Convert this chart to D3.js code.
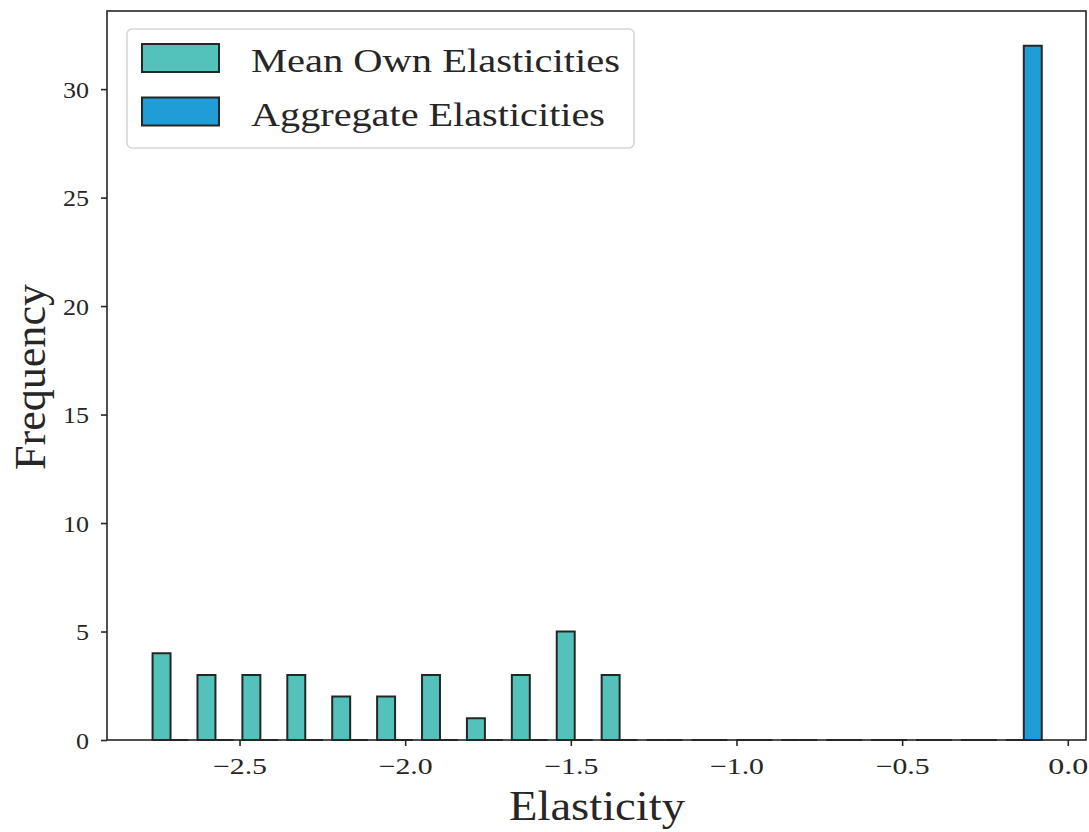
<!DOCTYPE html>
<html>
<head>
<meta charset="utf-8">
<script src="https://cdn.jsdelivr.net/npm/d3@7"></script>
<style>
  html, body { margin: 0; padding: 0; background: #ffffff; }
  svg { display: block; }
  text { font-family: "Liberation Serif", "DejaVu Serif", serif; fill: #262626; }
</style>
</head>
<body>
<svg id="chart" width="1089" height="832"></svg>
<script>
// ---- data ----
const binStart = -2.776;
const binWidth = 0.13555;
const binCount = 20;
const seriesNames = ["Mean Own Elasticities", "Aggregate Elasticities"];
const seriesColors = ["#52c2bb", "#209cd6"];
const meanOwnCounts = [4, 3, 3, 3, 2, 2, 3, 1, 3, 5, 3, 0, 0, 0, 0, 0, 0, 0, 0, 0];
const aggregateCounts = [0, 0, 0, 0, 0, 0, 0, 0, 0, 0, 0, 0, 0, 0, 0, 0, 0, 0, 0, 32];
const xTicks = [-2.5, -2.0, -1.5, -1.0, -0.5, 0.0];
const yTicks = [0, 5, 10, 15, 20, 25, 30];
const xDomain = [-2.9, 0.055];
const yDomain = [0, 33.6];

// ---- layout ----
const svg = d3.select("#chart");
const plot = { left: 107, right: 1086, top: 11, bottom: 740 };
const x = d3.scaleLinear().domain(xDomain).range([plot.left, plot.right]);
const y = d3.scaleLinear().domain(yDomain).range([plot.bottom, plot.top]);
const ink = "#262626";
const serif = '"Liberation Serif", "DejaVu Serif", serif';

const allSeries = [meanOwnCounts, aggregateCounts];
const rwidth = 0.8;
const barW = binWidth * rwidth / allSeries.length;

const bars = [];
allSeries.forEach((counts, s) => {
  counts.forEach((c, i) => {
    const left = binStart + i * binWidth + binWidth * (1 - rwidth) / 2 + s * barW;
    bars.push({ s, x0: left, x1: left + barW, c });
  });
});

const gBars = svg.append("g");
gBars.selectAll("path").data(bars).enter().append("path")
  .attr("d", d => {
    const p = d3.path();
    p.moveTo(x(d.x0), y(0));
    p.lineTo(x(d.x0), y(d.c));
    p.lineTo(x(d.x1), y(d.c));
    p.lineTo(x(d.x1), y(0));
    p.closePath();
    return p.toString();
  })
  .attr("fill", d => seriesColors[d.s])
  .attr("stroke", ink)
  .attr("stroke-width", 2)
  .attr("stroke-linejoin", "miter");

// frame
svg.append("rect")
  .attr("x", plot.left).attr("y", plot.top)
  .attr("width", plot.right - plot.left).attr("height", plot.bottom - plot.top)
  .attr("fill", "none").attr("stroke", ink).attr("stroke-width", 1.6);

// axes
const fmt = v => (v < 0 ? "\u2212" : "") + Math.abs(v).toFixed(1);
const xAxis = svg.append("g").attr("transform", `translate(0,${plot.bottom})`)
  .call(d3.axisBottom(x).tickValues(xTicks).tickFormat(fmt).tickSize(6).tickPadding(8));
const yAxis = svg.append("g").attr("transform", `translate(${plot.left},0)`)
  .call(d3.axisLeft(y).tickValues(yTicks).tickFormat(d3.format("d")).tickSize(6).tickPadding(12));
[xAxis, yAxis].forEach(g => {
  g.select(".domain").remove();
  g.selectAll(".tick line").attr("stroke", ink).attr("stroke-width", 1.6);
  g.selectAll(".tick text").attr("fill", ink).style("font-size", "23px")
    .style("font-family", serif);
});
xAxis.selectAll(".tick text").attr("dy", "0.85em")
  .attr("textLength", d => d < 0 ? 54 : 40).attr("lengthAdjust", "spacingAndGlyphs");
yAxis.selectAll(".tick text").attr("dy", "0.35em")
  .attr("textLength", d => d >= 10 ? 26 : 13).attr("lengthAdjust", "spacingAndGlyphs");

// axis labels
svg.append("text").attr("x", 597).attr("y", 820).attr("text-anchor", "middle")
  .style("font-size", "43px").attr("textLength", 176).attr("lengthAdjust", "spacingAndGlyphs")
  .text("Elasticity");
svg.append("text").attr("transform", "translate(45,377) rotate(-90)")
  .attr("text-anchor", "middle").style("font-size", "44px")
  .attr("textLength", 186).attr("lengthAdjust", "spacingAndGlyphs").text("Frequency");

// legend
const leg = svg.append("g");
leg.append("rect").attr("x", 127).attr("y", 29).attr("width", 507).attr("height", 119)
  .attr("rx", 5).attr("fill", "#ffffff").attr("fill-opacity", 0.8)
  .attr("stroke", "#d6d6d6").attr("stroke-width", 1.6);
seriesNames.forEach((name, i) => {
  const yy = 44 + i * 53.5;
  leg.append("rect").attr("x", 142).attr("y", yy).attr("width", 77).attr("height", 28)
    .attr("fill", seriesColors[i]).attr("stroke", ink).attr("stroke-width", 2);
  leg.append("text").attr("x", 251).attr("y", yy + 28).style("font-size", "33px")
    .attr("textLength", i === 0 ? 369 : 354).attr("lengthAdjust", "spacingAndGlyphs")
    .text(name);
});
</script>
</body>
</html>
